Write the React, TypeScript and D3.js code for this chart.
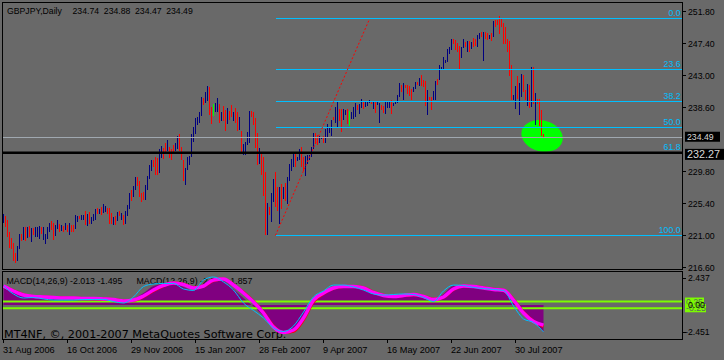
import React, { useEffect, useRef } from 'react';
import * as d3 from 'd3';

// quote header
const symbolTitle = 'GBPJPY,Daily';
const lastQuote = ['234.74', '234.88', '234.47', '234.49'];

// daily bars (high / low), one per trading day
const barHigh = [
  223.86, 223.58, 223.02, 221.38, 220.55, 219.86, 218.53, 219.44, 221.10, 221.10,
  222.07, 222.07, 222.11, 222.21, 221.93, 221.93, 222.07, 222.11, 222.21, 222.07,
  222.11, 221.10, 222.07, 222.67, 222.93, 222.63, 222.39, 223.02, 222.49, 222.31,
  222.21, 222.59, 222.31, 222.59, 222.39, 222.39, 223.68, 223.58, 223.58, 223.76,
  223.76, 224.32, 223.86, 224.14, 223.48, 223.86, 224.59, 224.69, 224.59, 224.77,
  225.23, 224.95, 224.69, 224.69, 223.95, 223.48, 223.58, 224.14, 224.23, 223.95,
  223.68, 224.32, 225.05, 226.73, 227.15, 227.71, 228.89, 228.89, 228.44, 226.78,
  226.87, 227.89, 229.08, 230.56, 231.29, 231.29, 231.66, 231.57, 232.75, 233.21,
  232.93, 233.67, 234.05, 233.03, 232.84, 233.31, 233.67, 234.60, 234.86, 233.03,
  231.29, 230.19, 231.75, 231.84, 234.86, 235.79, 237.06, 237.24, 237.89, 239.92,
  239.89, 240.60, 241.45, 241.31, 238.64, 239.05, 239.08, 239.89, 238.99, 237.87,
  238.71, 238.17, 238.49, 237.99, 238.82, 237.89, 238.45, 237.96, 237.16, 235.32,
  233.49, 233.77, 235.14, 237.99, 238.07, 237.96, 237.10, 235.00, 232.93, 232.12,
  231.66, 229.63, 225.41, 224.85, 226.71, 228.70, 229.63, 227.61, 227.53, 227.98,
  227.61, 228.08, 228.98, 230.73, 231.47, 232.12, 232.12, 231.66, 232.75, 233.03,
  231.66, 231.84, 232.02, 231.94, 233.03, 235.04, 234.96, 234.68, 234.60, 234.42,
  234.60, 235.51, 236.25, 235.69, 236.74, 237.16, 238.55, 239.36, 238.35, 238.27,
  238.27, 238.17, 238.27, 238.07, 237.89, 238.55, 239.17, 238.80, 238.99, 239.64,
  239.26, 239.44, 239.36, 239.54, 239.36, 239.44, 239.26, 239.36, 239.08, 238.80,
  238.71, 239.36, 239.44, 239.36, 239.54, 239.17, 239.44, 240.19, 241.93, 241.57,
  241.85, 241.66, 241.66, 241.48, 241.02, 241.38, 242.03, 242.03, 242.59, 242.94,
  242.31, 242.21, 240.92, 240.00, 239.92, 240.82, 242.13, 242.41, 244.33, 244.05,
  245.46, 245.05, 246.60, 246.79, 247.90, 247.90, 247.80, 247.43, 246.97, 246.79,
  247.90, 247.53, 247.71, 247.71, 247.53, 248.08, 247.90, 248.46, 248.81, 248.91,
  248.91, 248.91, 248.81, 248.46, 248.72, 250.47, 250.56, 250.56, 251.12, 250.66,
  250.11, 249.56, 247.98, 247.71, 244.41, 240.19, 241.48, 242.84, 241.93, 243.12,
  243.02, 240.92, 241.75, 241.66, 244.14, 244.05, 240.55, 239.64, 239.64, 238.17, 234.88,
];
const barLow = [
  222.67, 222.07, 220.69, 219.17, 219.03, 217.42, 217.14, 217.42, 219.07, 220.14,
  220.28, 220.18, 220.55, 220.73, 220.00, 221.00, 220.69, 220.73, 220.46, 221.10,
  220.28, 219.72, 220.42, 221.38, 221.66, 220.28, 220.82, 221.75, 221.38, 221.47,
  221.38, 221.66, 221.28, 221.00, 221.38, 221.47, 221.75, 222.75, 223.12, 223.02,
  223.12, 222.39, 222.21, 222.49, 222.49, 222.84, 223.02, 223.86, 223.95, 223.68,
  224.04, 224.14, 223.86, 222.49, 222.39, 222.39, 222.35, 222.93, 223.58, 223.02,
  222.31, 222.59, 223.58, 224.55, 225.64, 226.16, 227.05, 227.61, 226.24, 225.60,
  225.78, 225.88, 227.15, 228.64, 229.81, 230.37, 229.17, 229.26, 229.45, 231.57,
  231.38, 232.12, 232.50, 231.47, 231.38, 232.40, 232.58, 232.84, 232.50, 231.19,
  228.44, 227.89, 229.91, 230.64, 231.75, 233.77, 234.86, 236.15, 236.34, 237.34,
  238.94, 239.03, 239.40, 237.41, 236.32, 237.41, 237.89, 237.99, 236.32, 236.64,
  236.69, 235.23, 236.34, 236.69, 237.20, 236.69, 236.34, 235.41, 235.32, 232.44,
  232.02, 232.02, 233.31, 233.63, 237.30, 236.11, 233.03, 230.56, 230.73, 229.26,
  226.34, 221.00, 221.00, 223.76, 222.67, 225.60, 224.85, 224.32, 222.49, 224.57,
  225.96, 225.60, 225.23, 228.36, 229.81, 230.37, 230.28, 231.11, 231.29, 230.28,
  229.73, 229.08, 230.73, 231.19, 231.66, 232.84, 233.49, 233.31, 233.67, 234.14,
  233.59, 233.59, 234.42, 235.04, 234.60, 236.78, 236.34, 235.69, 236.69, 235.14,
  236.78, 237.52, 236.15, 236.07, 236.88, 236.96, 237.24, 238.17, 237.62, 238.45,
  238.35, 238.61, 238.71, 239.17, 238.89, 238.27, 237.71, 238.80, 236.34, 238.07,
  237.71, 237.62, 238.45, 238.35, 237.62, 238.80, 238.99, 239.08, 240.00, 240.55,
  239.54, 241.20, 240.47, 240.10, 239.54, 240.64, 241.10, 241.66, 241.48, 241.48,
  241.38, 238.80, 237.52, 239.64, 238.17, 239.54, 239.54, 241.57, 242.31, 243.82,
  243.86, 244.59, 244.77, 245.88, 246.44, 247.15, 246.44, 246.16, 243.86, 245.23,
  246.60, 246.87, 246.16, 246.25, 246.53, 246.79, 246.87, 246.87, 247.98, 248.26,
  244.95, 247.98, 247.80, 247.90, 247.62, 248.26, 249.64, 249.84, 248.63, 249.56,
  247.25, 247.25, 246.16, 242.94, 239.64, 239.44, 238.27, 239.64, 237.52, 239.92,
  240.64, 239.54, 238.71, 238.55, 238.61, 238.89, 236.15, 238.89, 235.87, 234.60, 234.47,
];
// u = up bar, d = down bar, g = open equals close
const barDir = [
  'udddddduud', 'udududuuud', 'uuuudduudu', 'dududduudu', 'ududuuudud',
  'uudddududu', 'duuuduuddd', 'duuuuddduu', 'dduddduudd', 'duuuuuuuuu',
  'duuddguudu', 'ddudduddud', 'uuuuddddud', 'dduduuddud', 'uduuuuduud',
  'duuuuudduu', 'duuuuduudd', 'uudguuuduu', 'duuududuud', 'duuuduuuud',
  'udddduudud', 'ddudduuduu', 'uuuuuddddu', 'udududduud', 'uddududddd',
  'ddddduuduu', 'ddudududddd',
].join('');

const priceTicks = [251.8, 247.4, 243.0, 238.6, 229.8, 225.4, 221.0, 216.6];
const dateLabels = ['31 Aug 2006', '16 Oct 2006', '29 Nov 2006', '15 Jan 2007', '28 Feb 2007',
  '9 Apr 2007', '16 May 2007', '22 Jun 2007', '30 Jul 2007'];
const dateBars = [0, 32, 64, 96, 128, 160, 192, 224, 256];

// objects on the chart
const fibLevels = [0, 23.6, 38.2, 50.0, 61.8, 100.0];
const fibHigh = 250.8;
const fibLow = 220.92;
const fibStartBar = 136;
const trendStart = { bar: 136, price: 220.92 };
const trendEnd = { bar: 183, price: 250.7 };
const ellipseAt = { bar: 269.3, price: 234.6 };
const bidPrice = 234.49;
const hLinePrice = 232.27;

// MACD window, sampled every 5 bars
const macdBars = [0, 5, 10, 15, 20, 25, 30, 35, 40, 45, 50, 55, 60, 65, 70, 75, 80, 85, 90, 95,
  100, 105, 110, 115, 120, 125, 130, 135, 140, 145, 150, 155, 160, 165, 170, 175, 180, 185, 190,
  195, 200, 205, 210, 215, 220, 225, 230, 235, 240, 245, 250, 255, 260, 265, 270];
const macdHist = [1.47, 1.10, 0.62, 0.55, 0.47, 0.44, 0.44, 0.44, 0.44, 0.40, 0.36, 0.29, 0.18,
  0.44, 0.88, 1.40, 1.55, 1.62, 1.33, 1.07, 1.55, 1.96, 1.77, 1.18, 0.51, -0.12, -0.82, -1.56,
  -2.08, -1.79, -0.82, 0.21, 0.88, 1.33, 1.47, 1.40, 1.29, 0.96, 0.70, 0.62, 0.73, 0.84, 0.66,
  0.33, 0.81, 1.40, 1.40, 1.33, 1.25, 1.18, 1.10, 0.29, -0.60, -1.19, -2.013];
const macdSignal = [1.40, 1.03, 0.73, 0.62, 0.59, 0.55, 0.51, 0.51, 0.47, 0.47, 0.44, 0.40, 0.29,
  0.36, 0.66, 1.10, 1.44, 1.62, 1.51, 1.25, 1.40, 1.84, 1.92, 1.47, 0.88, 0.21, -0.60, -1.64,
  -2.04, -1.86, -0.97, 0.36, 0.88, 1.25, 1.36, 1.36, 1.25, 0.92, 0.70, 0.62, 0.70, 0.77, 0.62,
  0.40, 0.59, 1.18, 1.40, 1.36, 1.25, 1.14, 1.08, 0.36, -0.60, -1.23, -1.495];
const macdSignal2 = [1.38, 1.05, 0.76, 0.63, 0.58, 0.55, 0.52, 0.50, 0.48, 0.46, 0.44, 0.40, 0.31,
  0.34, 0.62, 1.05, 1.42, 1.62, 1.53, 1.28, 1.38, 1.80, 1.92, 1.50, 0.92, 0.25, -0.55, -1.58,
  -2.05, -1.95, -1.10, 0.25, 0.84, 1.22, 1.36, 1.37, 1.27, 0.95, 0.72, 0.62, 0.69, 0.76, 0.63,
  0.42, 0.56, 1.14, 1.38, 1.37, 1.27, 1.16, 1.09, 0.40, -0.55, -1.20, -1.60];
const macdMain2 = [1.40, 0.81, 0.51, 0.55, 0.44, 0.36, 0.36, 0.36, 0.40, 0.40, 0.41, 0.25, 0.14,
  0.59, 1.36, 1.55, 1.59, 1.59, 1.18, 1.07, 1.84, 2.07, 1.70, 1.10, 0.14, -0.41, -0.97, -1.71,
  -1.97, -1.56, -0.53, 0.59, 1.03, 1.47, 1.47, 1.33, 1.10, 0.81, 0.73, 0.77, 0.81, 0.77, 0.55,
  0.25, 1.03, 1.47, 1.44, 1.29, 1.21, 1.14, 1.07, -0.08, -1.04, -1.30, -2.00];
const macdMax = 2.437;
const macdMin = -2.451;
const macdLevels = [0.25, -0.25];
const macdTitle1 = 'MACD(14,26,9) -2.013 -1.495';
const macdTitle2 = 'MACD(12,26,9) -2.001 -1.857';

const font = '"Liberation Sans", Arial, sans-serif';

const App = () => {
  const svgRef = useRef<SVGSVGElement>(null);

  useEffect(() => {
    const W = 724;
    const H = 360;
    const right = 682;

    const svg = d3.select(svgRef.current)
      .attr('width', W)
      .attr('height', H);
    svg.selectAll('*').remove();

    svg.append('rect').attr('width', W).attr('height', H).attr('fill', '#696969');

    const x = d3.scaleLinear().domain([0, barHigh.length - 1]).range([3.5, 3.5 + 2 * (barHigh.length - 1)]);
    const y = d3.scaleLinear().domain([216.6, 251.8]).range([266.7, 11]);
    const ym = d3.scaleLinear().domain([macdMin, macdMax]).range([338, 272]);

    const defs = svg.append('defs');
    defs.append('clipPath').attr('id', 'mainClip')
      .append('rect').attr('x', 3).attr('y', 3).attr('width', right - 3).attr('height', 266);
    defs.append('clipPath').attr('id', 'subClip')
      .append('rect').attr('x', 3).attr('y', 272).attr('width', right - 3).attr('height', 67);

    const g = svg.append('g').attr('clip-path', 'url(#mainClip)');

    // green marker ellipse sits behind the bars
    const ecx = x(ellipseAt.bar);
    const ecy = y(ellipseAt.price);
    g.append('ellipse')
      .attr('cx', ecx).attr('cy', ecy)
      .attr('rx', 21).attr('ry', 15.5)
      .attr('transform', `rotate(14 ${ecx} ${ecy})`)
      .attr('fill', '#00ff00');

    const barColor = (c: string) => (c === 'd' ? '#ff0000' : c === 'g' ? '#00ff00' : '#000080');
    g.selectAll('rect.bar')
      .data(d3.range(barHigh.length))
      .join('rect')
      .attr('class', 'bar')
      .attr('x', i => x(i) - 0.5)
      .attr('width', 1)
      .attr('y', i => Math.round(y(barHigh[i])))
      .attr('height', i => Math.max(1, Math.round(y(barLow[i]) - y(barHigh[i]))))
      .attr('shape-rendering', 'crispEdges')
      .attr('fill', i => barColor(barDir[i] || 'u'));

    // fibonacci retracement
    const fibPrice = (lvl: number) => fibHigh - (fibHigh - fibLow) * lvl / 100;
    fibLevels.forEach(lvl => {
      const yy = Math.round(y(fibPrice(lvl))) + 0.5;
      g.append('line')
        .attr('x1', x(fibStartBar)).attr('x2', right)
        .attr('y1', yy).attr('y2', yy)
        .attr('stroke', '#00bfff').attr('stroke-width', 1.3)
        .attr('shape-rendering', 'crispEdges');
      g.append('text')
        .attr('x', 680.5)
        .attr('y', yy - 3)
        .attr('text-anchor', 'end')
        .attr('font-family', font).attr('font-size', 8.7)
        .attr('fill', '#00bfff')
        .text(lvl.toFixed(1));
    });

    g.append('line')
      .attr('x1', x(trendStart.bar)).attr('y1', y(trendStart.price))
      .attr('x2', x(trendEnd.bar)).attr('y2', y(trendEnd.price))
      .attr('stroke', '#ff0000').attr('stroke-width', 1)
      .attr('stroke-dasharray', '2,2');

    const bidY = Math.round(y(bidPrice)) + 0.5;
    g.append('line')
      .attr('x1', 3).attr('x2', right).attr('y1', bidY).attr('y2', bidY)
      .attr('stroke', '#a0a8b0').attr('stroke-width', 1)
      .attr('shape-rendering', 'crispEdges');

    g.append('line')
      .attr('x1', 3).attr('x2', right).attr('y1', y(hLinePrice)).attr('y2', y(hLinePrice))
      .attr('stroke', '#000').attr('stroke-width', 2.5);

    // frames
    svg.append('rect').attr('x', 2.5).attr('y', 2.5).attr('width', right - 2).attr('height', 267)
      .attr('fill', 'none').attr('stroke', '#000');
    svg.append('rect').attr('x', 2.5).attr('y', 271.5).attr('width', right - 2).attr('height', 68)
      .attr('fill', 'none').attr('stroke', '#000');

    // title
    svg.append('text').attr('x', 7).attr('y', 14)
      .attr('font-family', font).attr('font-size', 8.7).attr('fill', '#000')
      .text(symbolTitle);
    const quoteX = [72.5, 103.8, 135, 166.2];
    lastQuote.forEach((q, k) => {
      svg.append('text').attr('x', quoteX[k]).attr('y', 14)
        .attr('font-family', font).attr('font-size', 8.7).attr('fill', '#000')
        .text(q);
    });

    // price axis
    priceTicks.forEach(p => {
      const yy = Math.round(y(p)) + 0.5;
      svg.append('line').attr('x1', right + 0.5).attr('x2', right + 4).attr('y1', yy).attr('y2', yy)
        .attr('stroke', '#000');
      svg.append('text').attr('x', 688).attr('y', yy + 3)
        .attr('font-family', font).attr('font-size', 8.7).attr('fill', '#000')
        .text(p.toFixed(2));
    });

    svg.append('rect').attr('x', 685).attr('y', y(bidPrice) - 5).attr('width', 35).attr('height', 10)
      .attr('fill', '#000');
    svg.append('text').attr('x', 687).attr('y', y(bidPrice) + 3.2)
      .attr('font-family', font).attr('font-size', 8.7).attr('fill', '#d8d8d8')
      .text(bidPrice.toFixed(2));

    svg.append('rect').attr('x', 685).attr('y', y(hLinePrice) - 4).attr('width', 39).attr('height', 11)
      .attr('fill', '#000');
    svg.append('text').attr('x', 687).attr('y', y(hLinePrice) + 5)
      .attr('font-family', font).attr('font-size', 10.8).attr('fill', '#d8d8d8')
      .text(hLinePrice.toFixed(2));

    // MACD window
    const sub = svg.append('g');
    sub.append('text').attr('x', 6.5).attr('y', 284)
      .attr('font-family', font).attr('font-size', 8.8).attr('fill', '#000')
      .text(macdTitle1);
    sub.append('text').attr('x', 136.5).attr('y', 284)
      .attr('font-family', font).attr('font-size', 8.8).attr('fill', '#000')
      .text(macdTitle2);
    sub.append('text').attr('x', 4).attr('y', 338)
      .attr('font-family', '"DejaVu Sans", sans-serif').attr('font-size', 11.2).attr('fill', '#000')
      .text('MT4NF, ©, 2001-2007 MetaQuotes Software Corp.');

    const sg = svg.append('g').attr('clip-path', 'url(#subClip)');
    const area = d3.area<number>()
      .x((d, k) => x(macdBars[k]))
      .y0(ym(0))
      .y1(d => ym(d))
      .curve(d3.curveMonotoneX);
    sg.append('path').datum(macdHist).attr('d', area).attr('fill', '#800080');

    macdLevels.forEach(lv => {
      sg.append('line').attr('x1', 3).attr('x2', right).attr('y1', ym(lv)).attr('y2', ym(lv))
        .attr('stroke', '#7cfc00').attr('stroke-width', 2);
    });

    const line = d3.line<number>()
      .x((d, k) => x(macdBars[k]))
      .y(d => ym(d))
      .curve(d3.curveMonotoneX);
    sg.append('path').datum(macdSignal2).attr('d', line)
      .attr('fill', 'none').attr('stroke', '#ff0000').attr('stroke-width', 3);
    sg.append('path').datum(macdSignal).attr('d', line)
      .attr('fill', 'none').attr('stroke', '#ff00ff').attr('stroke-width', 3.5);
    sg.append('path').datum(macdMain2).attr('d', line)
      .attr('fill', 'none').attr('stroke', '#00bfff').attr('stroke-width', 1);

    // MACD axis
    [[macdMax, ym(macdMax) + 6], [macdMin, ym(macdMin) - 6]].forEach(([v, yy]) => {
      svg.append('line').attr('x1', right + 0.5).attr('x2', right + 4)
        .attr('y1', Math.round(yy) + 0.5).attr('y2', Math.round(yy) + 0.5).attr('stroke', '#000');
      svg.append('text').attr('x', v < 0 ? 685 : 688).attr('y', yy + 3)
        .attr('font-family', font).attr('font-size', 8.7).attr('fill', '#000')
        .text(v.toFixed(3));
    });
    macdLevels.forEach(lv => {
      const yy = ym(lv);
      svg.append('rect').attr('x', 685).attr('y', yy - 4).attr('width', lv < 0 ? 21 : 19).attr('height', 8)
        .attr('fill', '#7cfc00');
      svg.append('text').attr('x', 686).attr('y', yy + 3)
        .attr('font-family', font).attr('font-size', 8.7).attr('fill', '#5a6a5a')
        .text(lv.toFixed(2));
    });
    svg.append('text').attr('x', 688).attr('y', ym(0) + 3)
      .attr('font-family', font).attr('font-size', 8.7).attr('fill', '#000')
      .text('0.00');

    // date axis
    dateBars.forEach((b, k) => {
      const xx = Math.round(x(b)) - 0.5;
      svg.append('line').attr('x1', xx).attr('x2', xx).attr('y1', 340).attr('y2', 343)
        .attr('stroke', '#000');
      svg.append('text').attr('x', xx - 0.5).attr('y', 352.5)
        .attr('font-family', font).attr('font-size', 9.2).attr('fill', '#000')
        .text(dateLabels[k]);
    });
  }, []);

  return (
    <svg
      ref={svgRef}
      style={{ position: 'absolute', left: 0, top: 0, display: 'block' }}
    />
  );
};

export default App;
